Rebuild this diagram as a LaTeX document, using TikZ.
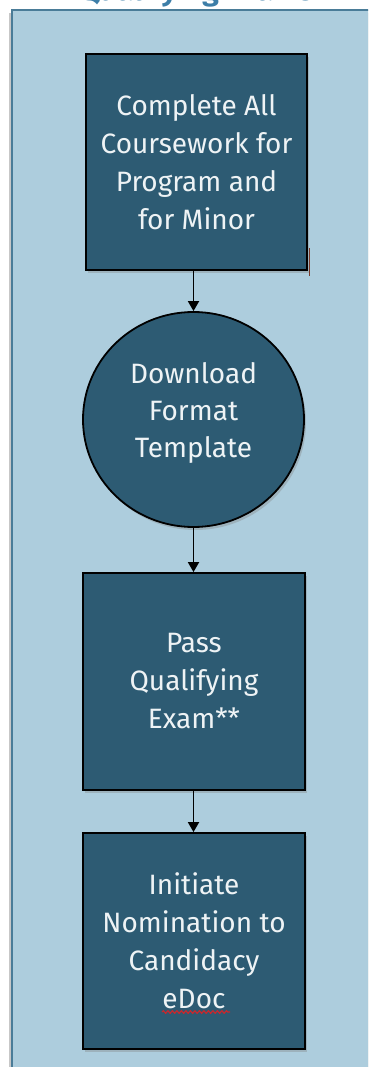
\documentclass[tikz,border=0pt]{standalone}
\usepackage{fontspec}
\setmainfont{Fira Sans}
\usetikzlibrary{arrows.meta,shapes.geometric,shadows,calc,decorations.pathmorphing}
\definecolor{panelfill}{HTML}{ADCDDD}
\definecolor{panelline}{HTML}{4A7C98}
\definecolor{boxfill}{HTML}{2D5B73}
\definecolor{boxtext}{HTML}{EEF3F5}
\definecolor{titleblue}{HTML}{3D7EA8}
\definecolor{ticktone}{HTML}{7A3A2A}
\definecolor{squig}{HTML}{C8282D}
\tikzset{
  stepbox/.style={draw=black, line width=1.8pt, fill=boxfill, text=boxtext,
    align=center, font=\fontsize{28}{38}\selectfont,
    drop shadow={opacity=0.35, shadow xshift=2pt, shadow yshift=-3pt}},
  steptext/.style={text=boxtext, align=center, font=\fontsize{28}{37}\selectfont, inner sep=0pt},
  flowarrow/.style={draw=black, line width=1.8pt, -{Triangle[width=11pt,length=10pt]}}
}
\begin{document}
\begin{tikzpicture}[x=1pt,y=-1pt]
\useasboundingbox (0,0) rectangle (368,1067);
\clip (0,0) rectangle (368,1067);
\fill[white] (0,0) rectangle (368,1067);
% panel shadow
\fill[black!22] (9,13) rectangle (380,1080);
\draw[panelline, line width=2pt, fill=panelfill] (12,10) rectangle (385,1085);
% title (cut off at top)
\node[anchor=base, text=titleblue, font=\fontsize{30}{30}\selectfont\bfseries] (title) at (196,1) {Qualifying Exams};
% steps
\node[stepbox, rectangle, minimum width=221pt, minimum height=216pt, inner sep=0pt] (b1) at (196.5,162) {Complete All\\Coursework for\\Program and\\for Minor};
\node[stepbox, ellipse, minimum width=221pt, minimum height=215pt, inner sep=0pt] (c2) at (193.5,419.5) {};
\node[steptext] (c2t) at ($(c2.center)+(0,-7)$) {Download\\Format\\Template};
\node[stepbox, rectangle, minimum width=222pt, minimum height=217pt, inner sep=0pt] (b3) at (194,681.5) {Pass\\Qualifying\\Exam**};
\node[stepbox, rectangle, minimum width=222pt, minimum height=216pt, inner sep=0pt] (b4) at (194,941) {Initiate\\Nomination to\\Candidacy\\eDoc};
% connectors
\draw[flowarrow] (b1.south -| c2.north) -- (c2.north);
\draw[flowarrow] (c2.south) -- (b3.north -| c2.south);
\draw[flowarrow] (b3.south -| c2.south) -- (b4.north -| c2.south);
% small tick beside first box
\coordinate (tickA) at ($(b1.south east)+(1.8,-23)$);
\coordinate (tickB) at ($(b1.south east)+(1.8,5)$);
\draw[ticktone, line width=1.2pt] (tickA) -- (tickB);
% spell-check squiggle under eDoc
\coordinate (sqA) at ($(b4.center)+(-32,71)$);
\coordinate (sqB) at ($(b4.center)+(36,71)$);
\draw[squig, line width=1.2pt, decorate, decoration={snake, amplitude=1.3pt, segment length=4.5pt}] (sqA) -- (sqB);
\end{tikzpicture}
\end{document}
